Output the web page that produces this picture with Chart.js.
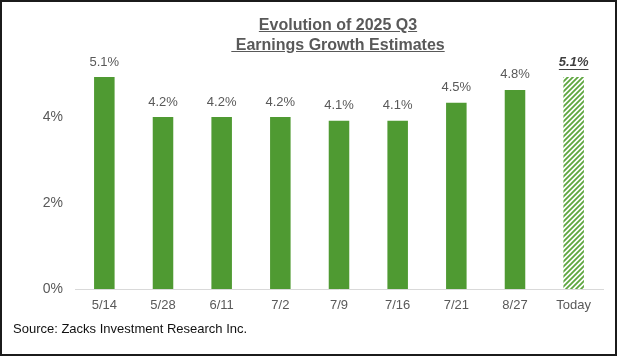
<!DOCTYPE html>
<html>
<head>
<meta charset="utf-8">
<script src="https://cdn.jsdelivr.net/npm/chart.js@4/dist/chart.umd.min.js"></script>
<style>
  html, body { margin: 0; padding: 0; background: #fff; }
  #wrap { position: relative; width: 620px; height: 357px; overflow: hidden; font-family: "Liberation Sans", Arial, sans-serif; }
  #c { position: absolute; left: 0; top: 0; }
  #frame { position: absolute; left: 0; top: 0; width: 613px; height: 352px; border: 2px solid #1b1b1b; pointer-events: none; }
  #title { position: absolute; left: 188px; width: 300px; top: 15px; text-align: center; font-weight: bold; font-size: 16px; line-height: 20px; color: #595959; }
  #title span { text-decoration: underline; }
  #source { position: absolute; left: 13px; top: 321px; font-size: 13px; color: #111; }
</style>
</head>
<body>
<div id="wrap">
  <canvas id="c" width="620" height="357"></canvas>
  <div id="title"><span>Evolution of 2025 Q3</span><br><span>&nbsp;Earnings Growth Estimates</span></div>
  <div id="source">Source: Zacks Investment Research Inc.</div>
  <div id="frame"></div>
</div>
<script>
// ---- data ----
const categories = ["5/14", "5/28", "6/11", "7/2", "7/9", "7/16", "7/21", "8/27", "Today"];
const barValues  = [4.93, 4.0, 4.0, 4.0, 3.91, 3.91, 4.33, 4.63, 4.93];
const barLabels  = ["5.1%", "4.2%", "4.2%", "4.2%", "4.1%", "4.1%", "4.5%", "4.8%", "5.1%"];
const yTicks     = [0, 2, 4];
const yMax = 5.5;

// ---- styles ----
const GREEN = "#4f9a32";
const TEXT = "#595959";
const FONT = "'Liberation Sans', Arial, sans-serif";

function hatch() {
  const t = document.createElement("canvas");
  t.width = 5; t.height = 5;
  const g = t.getContext("2d");
  g.fillStyle = "#ffffff"; g.fillRect(0, 0, 5, 5);
  g.strokeStyle = "#5ea63f"; g.lineWidth = 1.8;
  g.beginPath();
  g.moveTo(-1, 6); g.lineTo(6, -1);
  g.moveTo(-1, 1); g.lineTo(1, -1);
  g.moveTo(4, 6); g.lineTo(6, 4);
  g.stroke();
  return g.createPattern(t, "repeat");
}
const colors = categories.map((c, i) => i === categories.length - 1 ? hatch() : GREEN);

const labelPlugin = {
  id: "barLabels",
  afterDatasetsDraw(chart) {
    const ctx = chart.ctx;
    const meta = chart.getDatasetMeta(0);
    ctx.save();
    ctx.textAlign = "center";
    ctx.textBaseline = "middle";
    meta.data.forEach((bar, i) => {
      const last = i === meta.data.length - 1;
      ctx.font = (last ? "italic bold " : "") + "13px " + FONT;
      ctx.fillStyle = last ? "#404040" : TEXT;
      const y = bar.y - 15;
      ctx.fillText(barLabels[i], bar.x, y);
      if (last) {
        const w = ctx.measureText(barLabels[i]).width;
        ctx.fillRect(bar.x - w / 2, y + 7, w, 1);
      }
    });
    ctx.restore();
  }
};

new Chart(document.getElementById("c"), {
  type: "bar",
  data: {
    labels: categories,
    datasets: [{
      data: barValues,
      backgroundColor: colors,
      borderWidth: 0,
      barPercentage: 0.35,
      categoryPercentage: 1.0
    }]
  },
  options: {
    responsive: false,
    animation: false,
    devicePixelRatio: 1,
    layout: { padding: { left: 0, right: 17, top: 289 - yMax * 43, bottom: 0 } },
    plugins: { legend: { display: false }, tooltip: { enabled: false }, title: { display: false } },
    scales: {
      x: {
        grid: { display: false, drawTicks: false },
        border: { display: true, color: "#d9d9d9", width: 1 },
        ticks: { color: TEXT, font: { family: FONT, size: 13 }, padding: 9, maxRotation: 0 },
        afterFit(s) { s.height = 68; }
      },
      y: {
        min: 0, max: yMax,
        grid: { display: false, drawTicks: false },
        border: { display: false },
        afterBuildTicks(s) { s.ticks = yTicks.map(v => ({ value: v })); },
        ticks: { color: TEXT, font: { family: FONT, size: 14 }, padding: 12, callback: v => v + "%" },
        afterFit(s) { s.width = 75; }
      }
    }
  },
  plugins: [labelPlugin]
});
</script>
</body>
</html>
